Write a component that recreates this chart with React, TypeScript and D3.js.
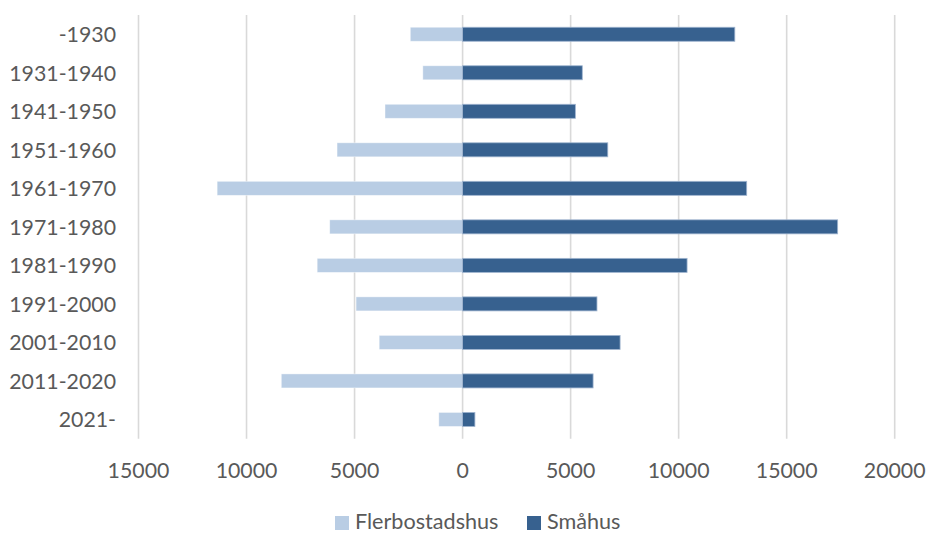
import React from "react";
import * as d3 from "d3";

const categories = ["-1930", "1931-1940", "1941-1950", "1951-1960", "1961-1970", "1971-1980", "1981-1990", "1991-2000", "2001-2010", "2011-2020", "2021-"];
const flerbostadshus = [2420, 1840, 3590, 5810, 11360, 6150, 6730, 4930, 3860, 8390, 1100];
const smahus = [12600, 5540, 5220, 6720, 13150, 17360, 10390, 6220, 7290, 6040, 570];
const xTicks = [-15000, -10000, -5000, 0, 5000, 10000, 15000, 20000];
const seriesNames = ["Flerbostadshus", "Småhus"];
const colors = ["#B9CDE4", "#37618F"];

const W = 929;
const H = 534;
const FONT = "Lato, 'Liberation Sans', sans-serif";

export default function App() {
  const x = d3.scaleLinear().domain([-15000, 20000]).range([138.5, 894.7]);
  const y = d3.scaleBand().domain(categories).range([15, 438.7]).paddingInner(0.636).paddingOuter(0.318);
  const bh = y.bandwidth();

  return (
    <svg width={W} height={H} style={{ position: "absolute", left: 0, top: 0, background: "#fff" }} fontFamily={FONT}>
      {xTicks.map((t) => (
        <line key={"g" + t} x1={x(t)} x2={x(t)} y1={15} y2={438.7} stroke="#D9D9D9" strokeWidth={1.6} />
      ))}
      {categories.map((c, i) => (
        <g key={c}>
          <rect x={x(-flerbostadshus[i])} y={y(c)} width={x(0) - x(-flerbostadshus[i])} height={bh} fill={colors[0]} stroke="#fff" strokeOpacity={0.5} strokeWidth={0.8} />
          <rect x={x(0)} y={y(c)} width={x(smahus[i]) - x(0)} height={bh} fill={colors[1]} stroke="#9FB4CF" strokeWidth={0.8} />
          <text x={116} y={(y(c) as number) + bh / 2} textAnchor="end" dominantBaseline="central" fontSize={21.3} fill="#595959">{c}</text>
        </g>
      ))}
      {xTicks.map((t) => (
        <text key={"t" + t} x={x(t)} y={470} textAnchor="middle" dominantBaseline="central" fontSize={21.3} fill="#595959">{Math.abs(t)}</text>
      ))}
      <rect x={335} y={516} width={14} height={14} fill={colors[0]} />
      <text x={355} y={528.5} fontSize={21.6} fill="#595959">{seriesNames[0]}</text>
      <rect x={527} y={516} width={14} height={14} fill={colors[1]} />
      <text x={547} y={528.5} fontSize={21.6} fill="#595959">{seriesNames[1]}</text>
    </svg>
  );
}
